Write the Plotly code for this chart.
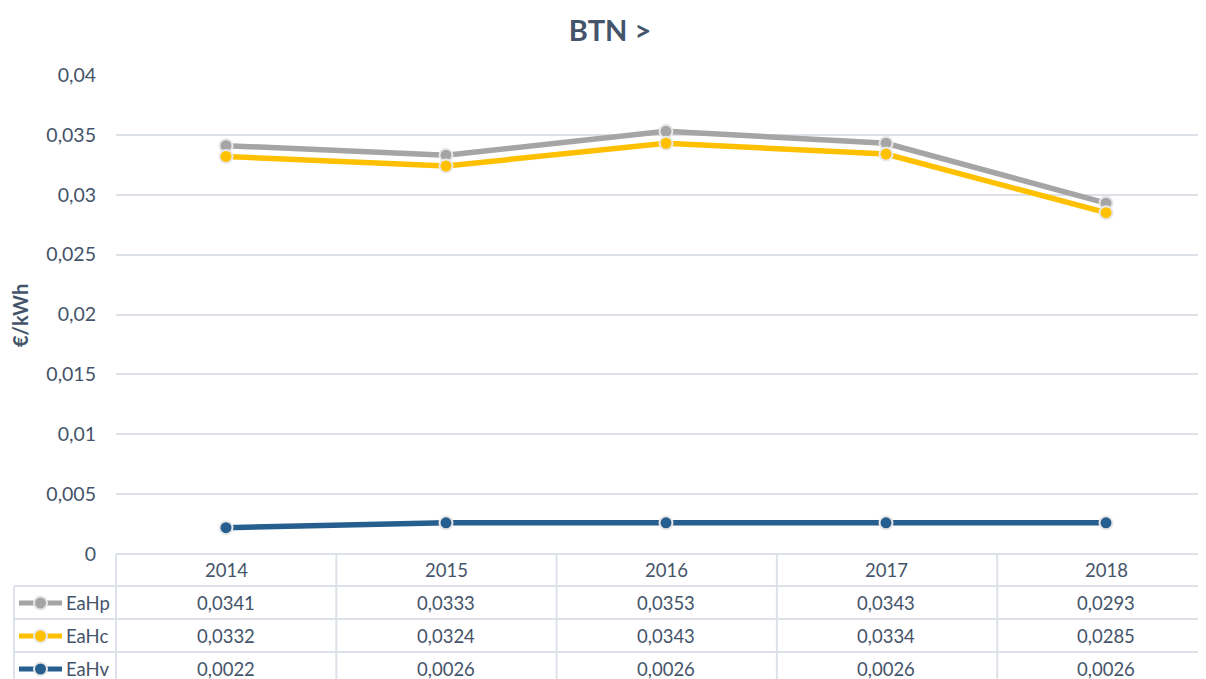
import plotly.graph_objects as go

years = ["2014", "2015", "2016", "2017", "2018"]
series_names = ["EaHp", "EaHc", "EaHv"]
eahp = [0.0341, 0.0333, 0.0353, 0.0343, 0.0293]
eahc = [0.0332, 0.0324, 0.0343, 0.0334, 0.0285]
eahv = [0.0022, 0.0026, 0.0026, 0.0026, 0.0026]
colors = ["#A5A5A5", "#FFC000", "#265E8F"]
y_ticks = [0, 0.005, 0.01, 0.015, 0.02, 0.025, 0.03, 0.035, 0.04]

series = [eahp, eahc, eahv]

O = 8  # page body margin offset
W, H = 1206 - O, 679 - O
L, R, T = 116 - O, 0, 75 - O
B = H - (554 - O)
PW, PH = W - L - R, H - T - B
TXT = "#44546A"
GRID = "#DDE2E9"
FONT = "Lato"


def px(x):
    # x given in screen (reference) pixels
    return (x - O - L) / PW


def py(y):
    return (H - B - (y - O)) / PH


fig = go.Figure()
for name, vals, col in zip(series_names, series, colors):
    fig.add_trace(go.Scatter(
        x=list(range(len(years))), y=vals, name=name, mode="lines+markers",
        line=dict(color=col, width=5.5),
        marker=dict(color=col, size=13, line=dict(color="#E8E8E8", width=2)),
        showlegend=False,
    ))

shapes = []
annotations = []
top, rows_y = 554, [586, 619, 652]
shapes.append(dict(type="line", xref="paper", yref="paper", x0=px(116), x1=px(1230),
                   y0=py(top), y1=py(top), line=dict(color=GRID, width=2)))
for yy in rows_y:
    shapes.append(dict(type="line", xref="paper", yref="paper", x0=px(14), x1=px(1230),
                       y0=py(yy), y1=py(yy), line=dict(color=GRID, width=2)))
for i in range(len(years)):
    xx = 116 + i * 220.3
    shapes.append(dict(type="line", xref="paper", yref="paper", x0=px(xx), x1=px(xx),
                       y0=py(top), y1=py(700), line=dict(color=GRID, width=2)))
shapes.append(dict(type="line", xref="paper", yref="paper", x0=px(14), x1=px(14),
                   y0=py(586), y1=py(700), line=dict(color=GRID, width=2)))

for i, yr in enumerate(years):
    annotations.append(dict(x=i, xref="x", y=py(570), yref="paper", text=yr, showarrow=False,
                            font=dict(family=FONT, size=18.5, color=TXT), xanchor="center", yanchor="middle"))
row_centers = [603, 636, 669]
for r, (name, vals, col) in enumerate(zip(series_names, series, colors)):
    yc = row_centers[r]
    for i, v in enumerate(vals):
        annotations.append(dict(x=i, xref="x", y=py(yc), yref="paper",
                                text=f"{v:.4f}".replace(".", ","), showarrow=False,
                                font=dict(family=FONT, size=18.5, color=TXT), xanchor="center", yanchor="middle"))
    shapes.append(dict(type="line", xref="paper", yref="paper", x0=px(19), x1=px(62),
                       y0=py(yc), y1=py(yc), line=dict(color=col, width=5)))
    shapes.append(dict(type="circle", xref="paper", yref="paper", x0=px(34), x1=px(47),
                       y0=py(yc - 6.5), y1=py(yc + 6.5), fillcolor=col,
                       line=dict(color="#E8E8E8", width=2)))
    annotations.append(dict(x=px(64), xref="paper", y=py(yc), yref="paper", text=name, showarrow=False,
                            font=dict(family=FONT, size=18.5, color=TXT), xanchor="left", yanchor="middle"))

annotations.append(dict(x=px(20), xref="paper", y=py(316), yref="paper", text="<b>€/kWh</b>",
                        showarrow=False, textangle=-90, borderpad=0,
                        font=dict(family=FONT, size=20, color=TXT), xanchor="center", yanchor="middle"))

fig.update_layout(
    width=W, height=H, margin=dict(l=L, r=R, t=T, b=B),
    paper_bgcolor="white", plot_bgcolor="white",
    separators=",.",
    title=dict(text="<b>BTN ></b>", x=(610 - O) / W, xref="container", xanchor="center",
               y=1 - (31 - O) / H, yref="container", yanchor="middle",
               font=dict(family=FONT, size=29, color=TXT)),
    shapes=shapes, annotations=annotations,
    font=dict(family=FONT, color=TXT),
)
fig.update_xaxes(range=[-0.5, 4.5 - 10 / 220], showticklabels=False, showgrid=False,
                 zeroline=False, showline=False)
fig.update_yaxes(range=[0, 0.04], tickvals=y_ticks, showgrid=True, gridcolor=GRID, gridwidth=2,
                 zeroline=False, showline=False, ticks="", ticklabelstandoff=19,
                 tickfont=dict(family=FONT, size=19.5, color=TXT))

fig.write_html("out.html")
